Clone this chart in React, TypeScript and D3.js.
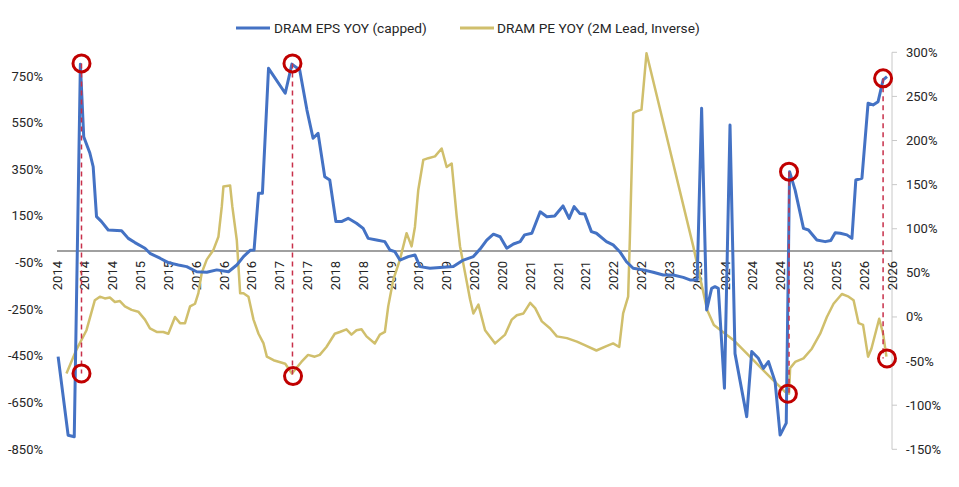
import React from "react";
import * as d3 from "d3";

// months since Jan 2014
const epsT = [0.2, 2.0, 3.1, 4.2, 4.8, 5.9, 6.5, 7.1, 8.0, 9.2, 11.6, 12.8, 14.0, 15.8, 16.7, 18.5, 20.0, 21.8, 23.3, 25.1, 26.9, 28.7, 30.8, 32.3, 33.5, 34.7, 35.4, 36.2, 36.9, 38.0, 41.0, 42.2, 43.6, 44.9, 46.0, 46.9, 48.1, 49.0, 50.1, 51.1, 52.3, 53.8, 55.0, 55.9, 57.4, 58.9, 59.8, 60.7, 61.6, 63.1, 64.3, 65.2, 67.0, 68.8, 71.2, 73.0, 74.8, 76.0, 77.2, 78.4, 79.6, 80.8, 82.0, 83.2, 84.0, 85.3, 86.8, 88.0, 89.4, 90.9, 92.0, 92.9, 93.9, 94.8, 96.0, 96.9, 98.7, 99.9, 101.1, 102.3, 103.5, 105.3, 107.1, 108.9, 110.7, 112.5, 113.7, 115.0, 115.8, 116.7, 117.6, 118.2, 118.8, 119.9, 120.9, 121.8, 123.9, 124.8, 126.0, 126.9, 127.8, 129.0, 129.9, 131.0, 131.6, 132.6, 134.1, 135.0, 136.5, 138.0, 139.0, 139.8, 140.7, 141.9, 142.8, 143.5, 144.6, 145.7, 146.6, 147.5, 148.4, 149.1];
const epsV = [-453, -790, -796, 800, 490, 420, 361, 147, 126, 90, 87, 54, 36, 12, -10, -31, -50, -60, -67, -89, -91, -81, -89, -60, -24, 3, 4, 247, 247, 783, 676, 801, 776, 604, 483, 504, 318, 304, 126, 126, 140, 119, 97, 54, 47, 40, 4, -3, -39, -24, -17, -67, -74, -71, -67, -39, -24, 8, 47, 72, 61, 12, 30, 40, 69, 76, 168, 147, 150, 193, 140, 190, 161, 159, 83, 76, 40, 26, -3, -46, -74, -81, -91, -103, -103, -113, -124, -124, 612, -253, -160, -153, -160, -588, 540, -440, -710, -431, -460, -503, -474, -560, -789, -738, 340, 261, 97, 90, 47, 40, 45, 78, 76, 69, 54, 304, 312, 633, 626, 640, 733, 747];

const peT = [1.7, 3.5, 5.3, 6.8, 7.7, 8.6, 9.5, 10.4, 11.3, 12.2, 13.4, 14.6, 15.8, 16.7, 17.9, 19.1, 20.0, 21.2, 22.1, 23.0, 23.9, 24.8, 25.4, 26.0, 26.9, 28.1, 29.0, 29.6, 29.9, 31.1, 31.5, 32.3, 32.9, 33.5, 34.4, 35.3, 36.2, 37.1, 37.7, 38.9, 41.0, 42.2, 43.9, 45.1, 46.3, 47.2, 48.4, 49.9, 50.8, 52.0, 52.9, 53.8, 54.7, 55.6, 57.1, 58.0, 58.9, 59.5, 60.4, 61.6, 62.8, 63.7, 64.3, 64.9, 65.8, 66.7, 67.9, 69.1, 70.0, 70.9, 71.8, 72.4, 73.3, 74.2, 74.8, 75.7, 76.9, 78.7, 80.5, 81.7, 82.6, 83.8, 85.0, 85.9, 87.1, 88.6, 89.8, 91.6, 93.4, 94.8, 96.9, 98.7, 99.9, 101.0, 101.7, 102.6, 102.9, 103.5, 104.1, 105.0, 105.9, 114.3, 116.8, 118.0, 121.5, 125.1, 128.7, 130.8, 131.5, 131.7, 132.6, 134.1, 135.6, 137.1, 138.3, 139.5, 141.0, 142.2, 143.1, 144.0, 144.8, 145.7, 146.3, 147.7, 148.4, 149.0];
const peV = [-64, -37, -15, 19, 23, 21, 22, 17, 18, 12, 8, 6, -3, -13, -17, -17, -19, 0, -7, -7, 12, 15, 27, 50, 65, 76, 91, 125, 148, 149, 125, 87, 27, 27, 23, -3, -19, -30, -45, -49, -53, -64, -51, -43, -45, -43, -34, -19, -17, -14, -20, -15, -14, -22, -30, -20, -17, 12, 42, 65, 95, 80, 102, 144, 178, 180, 182, 191, 170, 174, 114, 80, 50, 20, 4, 14, -15, -30, -20, -3, 2, 4, 16, 10, -5, -13, -22, -24, -28, -32, -38, -33, -30, -34, 4, 23, 87, 231, 233, 235, 299, 80, 8, -9, -26, -49, -72, -85, -87, -58, -51, -47, -36, -19, 0, 15, 26, 23, 19, -7, -9, -45, -36, -2, -19, -45];

const leftTicks = [750, 550, 350, 150, -50, -250, -450, -650, -850];
const rightTicks = [300, 250, 200, 150, 100, 50, 0, -50, -100, -150];
const xTickMonths = d3.range(0, 151, 5);
const xTickLabels = ["2014", "2014", "2014", "2015", "2015", "2016", "2016", "2016", "2017", "2017", "2018", "2018", "2019", "2019", "2019", "2020", "2020", "2021", "2021", "2021", "2022", "2022", "2023", "2023", "2024", "2024", "2024", "2025", "2025", "2026", "2026"];

// highlighted pairs: month, EPS (left) value, PE (right) value
const markEpsT = [4.4, 42.3, 131.5, 148.4];
const markEpsV = [804, 804, 340, 740];
const markPeT = [4.4, 42.4, 131.3, 149.1];
const markPeV = [-64, -67, -87, -47];

const BLUE = "#4472c4";
const GOLD = "#d0bf6c";
const RED = "#c00000";
const FONT = "Roboto, 'Liberation Sans', sans-serif";
const TXT = "#262626";

export default function App() {
  const W = 959, H = 487;
  const x = d3.scaleLinear().domain([0, 150]).range([57, 892]);
  const yL = d3.scaleLinear().domain([-850, 750]).range([449.3, 76]);
  const yR = d3.scaleLinear().domain([-150, 300]).range([449.3, 52.3]);

  const epsLine = d3.line<number>().x((_, i) => x(epsT[i])).y((v) => yL(v))(epsV) || "";
  const peLine = d3.line<number>().x((_, i) => x(peT[i])).y((v) => yR(v))(peV) || "";

  return (
    <svg width={W} height={H} style={{ position: "absolute", left: 0, top: 0, background: "#fff" }} fontFamily={FONT}>
      {/* legend */}
      <line x1={236} x2={270} y1={28} y2={28} stroke={BLUE} strokeWidth={3} />
      <text x={274} y={28} dominantBaseline="central" fontSize={13.7} fill={TXT}>DRAM EPS YOY (capped)</text>
      <line x1={460} x2={494} y1={28} y2={28} stroke={GOLD} strokeWidth={3} />
      <text x={497} y={28} dominantBaseline="central" fontSize={13.7} fill={TXT}>DRAM PE YOY (2M Lead, Inverse)</text>

      {/* left axis labels */}
      {leftTicks.map((t) => (
        <text key={"l" + t} x={43} y={yL(t)} textAnchor="end" dominantBaseline="central" fontSize={13} fill={TXT}>{t + "%"}</text>
      ))}

      {/* right axis */}
      <line x1={892} x2={892} y1={yR(300)} y2={yR(-150)} stroke="#c8c8c8" strokeWidth={1} />
      {rightTicks.map((t) => (
        <g key={"r" + t}>
          <line x1={892} x2={897} y1={yR(t)} y2={yR(t)} stroke="#c8c8c8" strokeWidth={1} />
          <text x={906} y={yR(t)} textAnchor="start" dominantBaseline="central" fontSize={13} fill={TXT}>{t + "%"}</text>
        </g>
      ))}

      {/* zero line */}
      <line x1={x(0)} x2={x(150)} y1={yL(0)} y2={yL(0)} stroke="#808080" strokeWidth={1.5} />

      {/* x labels */}
      {xTickMonths.map((m, i) => (
        <text key={"x" + i} transform={`translate(${x(m)},${261}) rotate(-90)`} textAnchor="end" dominantBaseline="central" fontSize={13} fill={TXT}>{xTickLabels[i]}</text>
      ))}

      <path d={peLine} fill="none" stroke={GOLD} strokeWidth={2.5} strokeLinejoin="round" />
      <path d={epsLine} fill="none" stroke={BLUE} strokeWidth={3} strokeLinejoin="round" />

      {markEpsT.map((m, i) => (
        <line key={"d" + i} x1={x(m)} x2={x(m)} y1={yL(markEpsV[i])} y2={yR(markPeV[i])} stroke="#c8304a" strokeWidth={1.5} strokeDasharray="5,4" />
      ))}
      {markEpsT.map((m, i) => (
        <circle key={"ce" + i} cx={x(m)} cy={yL(markEpsV[i])} r={8.5} fill="none" stroke={RED} strokeWidth={3} />
      ))}
      {markPeT.map((m, i) => (
        <circle key={"cp" + i} cx={x(m)} cy={yR(markPeV[i])} r={8.5} fill="none" stroke={RED} strokeWidth={3} />
      ))}
    </svg>
  );
}
